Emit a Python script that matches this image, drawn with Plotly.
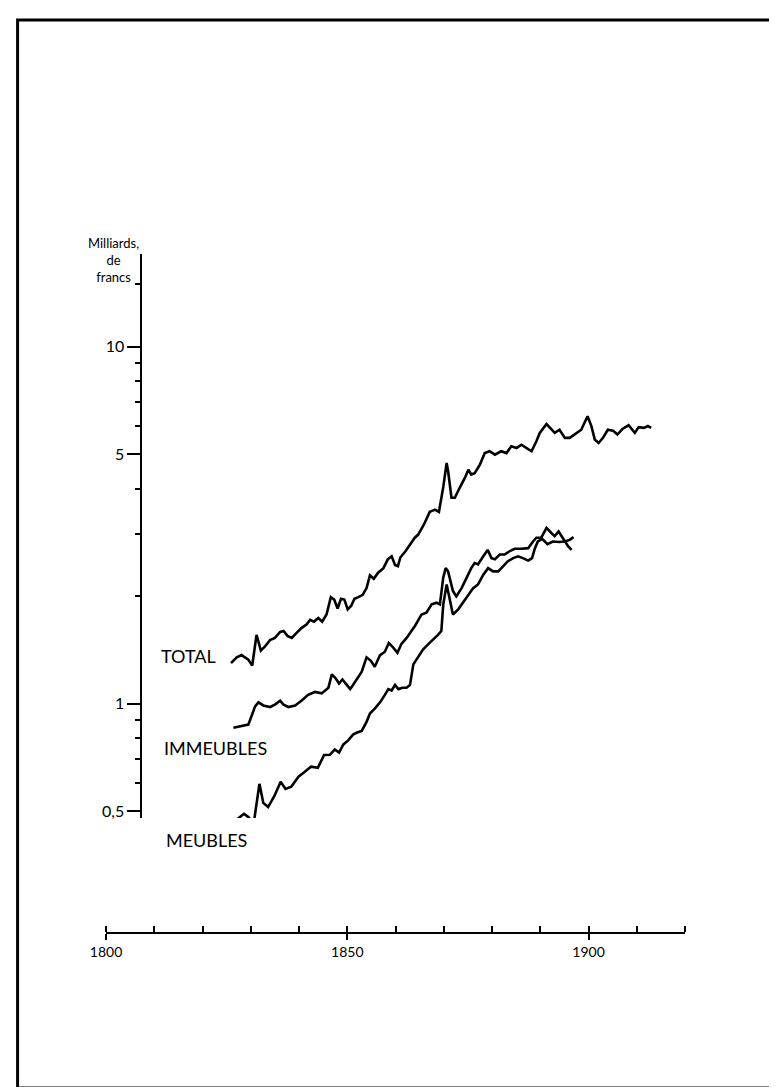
import math
import plotly.graph_objects as go

# ---------------- data ----------------
years_total = [1825.9, 1827.1, 1828.1, 1829.5, 1830.3, 1831.2, 1832.1, 1833.0, 1834.0, 1835.0,
               1836.1, 1836.8, 1837.6, 1838.5, 1839.5, 1840.5, 1841.6, 1842.3, 1843.1, 1844.0,
               1844.8, 1845.7, 1846.6, 1847.3, 1848.0, 1848.7, 1849.4, 1850.1, 1850.8, 1851.5,
               1852.3, 1853.2, 1854.0, 1854.7, 1855.5, 1856.4, 1857.5, 1858.4, 1859.2, 1859.9,
               1860.5, 1861.0, 1862.1, 1863.3, 1864.0, 1864.7, 1865.9, 1867.1, 1868.2, 1869.0,
               1869.9, 1870.6, 1870.9, 1871.6, 1872.3, 1873.3, 1874.4, 1875.1, 1875.7, 1876.4,
               1877.5, 1878.5, 1879.5, 1880.6, 1881.9, 1883.0, 1884.0, 1885.1, 1886.1, 1887.1,
               1888.2, 1889.2, 1889.9, 1891.3, 1892.3, 1893.0, 1894.0, 1895.1, 1896.1, 1897.5,
               1898.5, 1899.8, 1900.6, 1901.3, 1902.1, 1903.0, 1904.0, 1905.1, 1906.0, 1907.1,
               1908.3, 1909.6, 1910.4, 1911.5, 1912.3, 1913.0]
total = [1.30, 1.35, 1.37, 1.33, 1.28, 1.56, 1.41, 1.45, 1.51, 1.53,
         1.59, 1.60, 1.55, 1.53, 1.58, 1.63, 1.67, 1.72, 1.70, 1.74,
         1.70, 1.78, 1.99, 1.96, 1.85, 1.97, 1.96, 1.84, 1.88, 1.97,
         1.99, 2.02, 2.11, 2.29, 2.24, 2.33, 2.40, 2.54, 2.59, 2.45,
         2.43, 2.57, 2.68, 2.83, 2.92, 2.98, 3.18, 3.45, 3.50, 3.45,
         4.05, 4.73, 4.49, 3.78, 3.78, 4.03, 4.30, 4.53, 4.39, 4.43,
         4.68, 5.04, 5.10, 4.99, 5.10, 5.04, 5.27, 5.21, 5.32, 5.21,
         5.10, 5.44, 5.74, 6.08, 5.86, 5.74, 5.86, 5.56, 5.56, 5.74,
         5.86, 6.39, 6.00, 5.50, 5.38, 5.56, 5.86, 5.82, 5.68, 5.90,
         6.03, 5.74, 5.96, 5.93, 6.00, 5.93]

years_immeubles = [1826.4, 1827.8, 1829.5, 1830.9, 1831.6, 1832.6, 1834.0, 1835.0, 1836.1, 1836.8,
                   1837.8, 1839.2, 1840.5, 1841.9, 1843.3, 1844.7, 1846.1, 1846.8, 1847.6, 1848.3,
                   1849.0, 1849.9, 1850.6, 1851.2, 1852.1, 1853.0, 1854.0, 1854.9, 1855.7, 1856.8,
                   1857.8, 1858.6, 1859.5, 1860.4, 1861.2, 1862.3, 1863.3, 1864.0, 1865.4, 1866.4,
                   1867.5, 1868.5, 1869.2, 1869.9, 1870.4, 1870.9, 1871.9, 1872.6, 1873.7, 1874.7,
                   1875.7, 1876.4, 1877.1, 1878.2, 1879.1, 1879.9, 1880.6, 1881.6, 1882.6, 1883.7,
                   1884.7, 1886.1, 1887.5, 1888.5, 1889.2, 1890.2, 1891.3, 1892.3, 1893.0, 1893.8,
                   1894.7, 1895.8, 1896.5]
immeubles = [0.857, 0.865, 0.875, 0.984, 1.01, 0.99, 0.98, 0.995, 1.02, 0.995,
             0.98, 0.99, 1.02, 1.06, 1.08, 1.07, 1.11, 1.21, 1.18, 1.14,
             1.17, 1.13, 1.10, 1.13, 1.18, 1.23, 1.35, 1.32, 1.27, 1.37,
             1.40, 1.48, 1.44, 1.39, 1.47, 1.53, 1.60, 1.65, 1.78, 1.80,
             1.90, 1.92, 1.90, 2.26, 2.40, 2.35, 2.07, 2.00, 2.11, 2.26,
             2.40, 2.48, 2.46, 2.59, 2.70, 2.56, 2.54, 2.62, 2.62, 2.68,
             2.72, 2.72, 2.73, 2.85, 2.92, 2.92, 3.11, 3.01, 2.95, 3.04,
             2.92, 2.76, 2.70]

years_meubles = [1825.4, 1827.2, 1828.6, 1829.5, 1830.6, 1831.8, 1832.6, 1833.6, 1834.9, 1836.2,
                 1837.2, 1838.4, 1839.9, 1841.2, 1842.5, 1843.9, 1845.2, 1846.4, 1847.4, 1848.3,
                 1849.2, 1850.2, 1851.2, 1851.9, 1853.0, 1854.0, 1854.7, 1855.7, 1856.8, 1857.8,
                 1858.5, 1859.2, 1859.9, 1860.6, 1861.4, 1862.3, 1863.0, 1863.7, 1864.7, 1865.7,
                 1866.8, 1867.8, 1868.8, 1869.5, 1869.9, 1870.6, 1871.3, 1871.9, 1873.0, 1874.0,
                 1875.1, 1876.1, 1877.1, 1878.2, 1879.2, 1880.2, 1881.3, 1882.3, 1883.3, 1884.4,
                 1885.4, 1886.4, 1887.5, 1888.3, 1888.9, 1889.5, 1890.4, 1891.5, 1892.6, 1894.0,
                 1895.1, 1896.1, 1896.9]
meubles = [0.455, 0.476, 0.492, 0.482, 0.461, 0.597, 0.528, 0.514, 0.552, 0.605,
           0.578, 0.586, 0.625, 0.645, 0.667, 0.662, 0.719, 0.72, 0.745, 0.73,
           0.77, 0.79, 0.82, 0.83, 0.84, 0.89, 0.94, 0.97, 1.01, 1.06,
           1.10, 1.09, 1.13, 1.10, 1.11, 1.11, 1.13, 1.29, 1.36, 1.42,
           1.47, 1.51, 1.56, 1.60, 1.90, 2.16, 1.94, 1.78, 1.84, 1.92,
           2.02, 2.11, 2.16, 2.30, 2.40, 2.35, 2.35, 2.43, 2.51, 2.56,
           2.59, 2.56, 2.52, 2.56, 2.73, 2.85, 2.90, 2.80, 2.85, 2.84,
           2.85, 2.88, 2.93]

x_major_ticks = [1800, 1850, 1900]
x_major_labels = ["1800", "1850", "1900"]
x_minor_ticks = list(range(1800, 1921, 10))
y_ticks = [0.5, 1, 5, 10]
y_tick_labels = ["0,5", "1", "5", "10"]
y_minor_ticks = [0.6, 0.7, 0.8, 0.9, 2, 3, 4, 6, 7, 8, 9, 15]

# ---------------- layout geometry (pixels) ----------------
W, H = 777, 1087
PL, PR = 97.5, 677.1      # x pixels of 1800 and 1920
PT, PB = 246, 925         # top of y axis, x-axis line
Y_BOTTOM_PX = 810         # bottom of y axis line
Y_AXIS_PX = 133           # x pixel of y axis line


def px(xp, yp):
    return (xp - PL) / (PR - PL), (PB - yp) / (PB - PT)


FONT = "Lato"

fig = go.Figure()
for xs, ys in [(years_total, total), (years_immeubles, immeubles), (years_meubles, meubles)]:
    fig.add_trace(go.Scatter(x=xs, y=ys, mode="lines",
                             line=dict(color="black", width=2.6),
                             showlegend=False, hoverinfo="skip"))

ydom0 = (PB - Y_BOTTOM_PX) / (PB - PT)
fig.update_layout(
    width=W, height=H,
    margin=dict(l=PL, r=W - PR, t=PT, b=H - PB, pad=0),
    paper_bgcolor="white", plot_bgcolor="white",
    font=dict(family=FONT, color="black"),
    xaxis=dict(range=[1800, 1920], anchor="free", position=0,
               showline=True, linecolor="black", linewidth=1.6,
               ticks="outside", ticklen=6, tickwidth=1.6, tickcolor="black",
               tickmode="array", tickvals=x_major_ticks, ticktext=x_major_labels,
               tickfont=dict(size=14, family=FONT),
               minor=dict(tickmode="array", tickvals=x_minor_ticks, ticks="inside",
                          ticklen=6, tickwidth=1.5, tickcolor="black", showgrid=False),
               showgrid=False, zeroline=False),
    yaxis=dict(type="log",
               range=[math.log10(0.479), math.log10(18.2)],
               domain=[ydom0, 1], anchor="free",
               position=(Y_AXIS_PX - PL) / (PR - PL),
               showline=True, linecolor="black", linewidth=2,
               ticks="outside", ticklen=13, tickwidth=2, tickcolor="black",
               tickmode="array", tickvals=y_ticks, ticktext=y_tick_labels,
               tickfont=dict(size=16, family=FONT),
               minor=dict(tickmode="array", tickvals=y_minor_ticks, ticks="outside",
                          ticklen=5, tickwidth=1.5, tickcolor="black", showgrid=False),
               showgrid=False, zeroline=False),
)

labels = [("TOTAL", 151, 648), ("IMMEUBLES", 154, 740), ("MEUBLES", 156, 832)]
for txt, xp, yp in labels:
    ax, ay = px(xp, yp)
    fig.add_annotation(x=ax, y=ay, xref="paper", yref="paper", text=txt,
                       showarrow=False, xanchor="left", yanchor="middle",
                       font=dict(size=18, family=FONT, color="black"))

tx, ty = px(105, 252)
fig.add_annotation(x=tx, y=ty, xref="paper", yref="paper",
                   text="Milliards,<br>de<br>francs", showarrow=False,
                   xanchor="center", yanchor="middle", align="center",
                   font=dict(size=13, family=FONT, color="black"))

bx0, by0 = px(9, 1080)
bx1, by1 = px(776, 12)
fig.add_shape(type="rect", xref="paper", yref="paper", x0=bx0, y0=by0, x1=bx1, y1=by1,
              line=dict(color="black", width=3))

fig.write_html("out.html")
